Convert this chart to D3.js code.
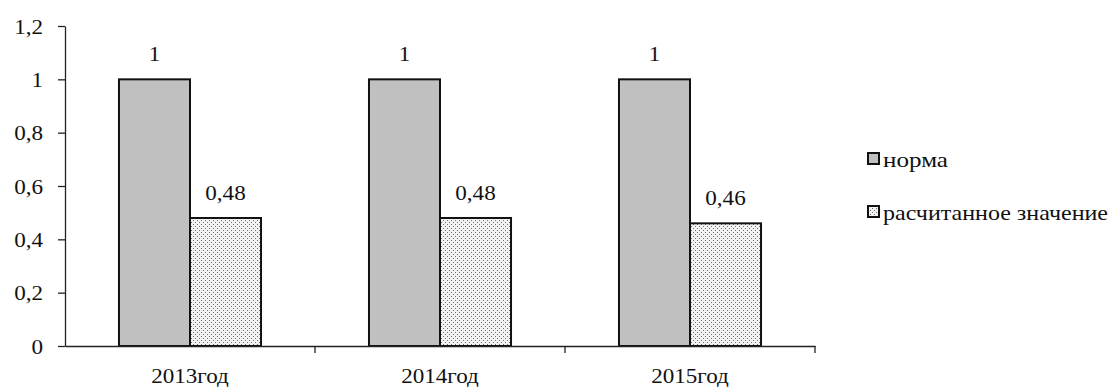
<!DOCTYPE html>
<html>
<head>
<meta charset="utf-8">
<script src="https://cdn.jsdelivr.net/npm/d3@7"></script>
<style>
  html, body { margin: 0; padding: 0; background: #fff; }
  svg { display: block; }
  svg text { font-family: "Liberation Serif", "Times New Roman", Times, serif; fill: #111; }
</style>
</head>
<body>
<svg id="chart" width="1114" height="387"></svg>
<script>
// Chart data
const categories = ["2013год", "2014год", "2015год"];
const seriesNames = ["норма", "расчитанное значение"];
const normValues = [1, 1, 1];
const calcValues = [0.48, 0.48, 0.46];
const yTicks = [0, 0.2, 0.4, 0.6, 0.8, 1, 1.2];

const fmt = v => String(v).replace(".", ",");
const SERIF = "'Liberation Serif', 'Times New Roman', Times, serif";

const svg = d3.select("#chart");
const margin = { left: 65, right: 299, top: 26, bottom: 41 };
const W = 1114, H = 387;
const FS = 22;        // text size
const stretch = 1.05; // slightly wide letterforms

// dotted fill for the computed series
const defs = svg.append("defs");
const pat = defs.append("pattern")
  .attr("id", "dots").attr("patternUnits", "userSpaceOnUse")
  .attr("width", 4).attr("height", 4);
pat.append("rect").attr("width", 4).attr("height", 4).attr("fill", "#f2f2f2");
pat.append("rect").attr("x", 0).attr("y", 0).attr("width", 1).attr("height", 1).attr("fill", "#707070");
pat.append("rect").attr("x", 2).attr("y", 2).attr("width", 1).attr("height", 1).attr("fill", "#707070");

const x = d3.scaleBand().domain(categories)
  .range([margin.left, W - margin.right]).paddingInner(0).paddingOuter(0);
const y = d3.scaleLinear().domain([0, 1.2]).range([H - margin.bottom, margin.top]);
const inner = d3.scaleBand().domain(seriesNames).range([0, x.bandwidth()]).paddingInner(0).paddingOuter(0.76);

const rows = categories.map((c, i) => ({ cat: c, vals: [normValues[i], calcValues[i]] }));

// y axis
const yAxis = svg.append("g").attr("transform", `translate(${margin.left},0)`)
  .call(d3.axisLeft(y).tickValues(yTicks).tickFormat(fmt).tickSize(7).tickSizeOuter(0));
yAxis.attr("font-family", SERIF);
yAxis.select(".domain").attr("stroke", "#222").attr("stroke-width", 1.3);
yAxis.selectAll(".tick line").attr("stroke", "#222").attr("stroke-width", 1.3);
yAxis.selectAll(".tick text")
  .attr("font-size", FS).attr("x", 0).attr("dy", "0.33em")
  .attr("transform", `translate(-22,0) scale(${stretch},1)`)
  .attr("fill", "#111");

// bars
const groups = svg.append("g").selectAll("g").data(rows).join("g")
  .attr("transform", d => `translate(${x(d.cat)},0)`);
groups.selectAll("rect").data(d => d.vals.map((v, k) => ({ v, s: seriesNames[k] })))
  .join("rect")
  .attr("x", d => inner(d.s))
  .attr("width", inner.bandwidth())
  .attr("y", d => y(d.v))
  .attr("height", d => y(0) - y(d.v))
  .attr("fill", d => d.s === seriesNames[0] ? "#c0c0c0" : "url(#dots)")
  .attr("stroke", "#111").attr("stroke-width", 2);

// value labels
groups.selectAll("text.val").data(d => d.vals.map((v, k) => ({ v, s: seriesNames[k] })))
  .join("text").attr("class", "val")
  .attr("transform", d => `translate(${inner(d.s) + inner.bandwidth() / 2},${y(d.v) - 18}) scale(${stretch},1)`)
  .attr("text-anchor", "middle").attr("font-size", FS)
  .text(d => fmt(d.v));

// x axis
const xAxis = svg.append("g").attr("transform", `translate(0,${y(0)})`)
  .call(d3.axisBottom(x).tickSize(0).tickSizeOuter(0));
xAxis.attr("font-family", SERIF);
xAxis.select(".domain").attr("stroke", "#222").attr("stroke-width", 1.3);
xAxis.selectAll(".tick text")
  .attr("font-size", FS).attr("y", 0).attr("dy", 0)
  .attr("transform", `translate(0,37) scale(${stretch},1)`)
  .attr("fill", "#111");
// category boundary ticks
const bounds = categories.map(c => x(c) + x.bandwidth());
xAxis.selectAll("line.bound").data(bounds).join("line").attr("class", "bound")
  .attr("x1", d => d).attr("x2", d => d).attr("y1", 0).attr("y2", 7)
  .attr("stroke", "#222").attr("stroke-width", 1.3);

// legend
const legend = svg.append("g").attr("transform", "translate(868,0)");
const legTop = [153, 206];
seriesNames.forEach((s, k) => {
  legend.append("rect").attr("x", 0).attr("y", legTop[k]).attr("width", 11).attr("height", 11)
    .attr("fill", k === 0 ? "#c0c0c0" : "url(#dots)").attr("stroke", "#111").attr("stroke-width", 2);
  legend.append("text")
    .attr("transform", `translate(15,${legTop[k] + 14})`)
    .attr("font-size", FS)
    .attr("textLength", k === 0 ? 65 : 225).attr("lengthAdjust", "spacingAndGlyphs")
    .text(s);
});
</script>
</body>
</html>
